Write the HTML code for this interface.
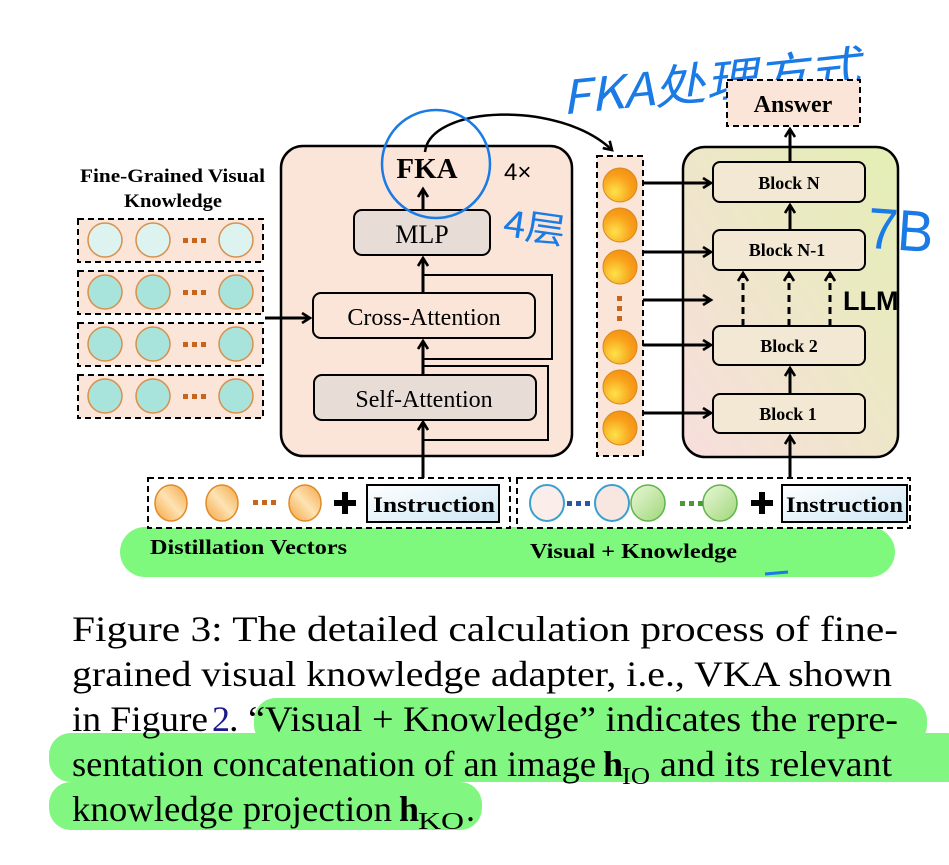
<!DOCTYPE html>
<html><head><meta charset="utf-8"><style>
html,body{margin:0;padding:0;background:#fff;}
svg{display:block;}
</style></head><body>
<svg width="949" height="865" viewBox="0 0 949 865" xmlns="http://www.w3.org/2000/svg">
<defs>
<marker id="ah" markerWidth="12" markerHeight="12" refX="9" refY="6" orient="auto" markerUnits="userSpaceOnUse">
<path d="M1,1 L9,6 L1,11" fill="none" stroke="#000" stroke-width="2.6"/>
</marker>
<radialGradient id="org" cx="0.35" cy="0.7" r="0.8">
<stop offset="0" stop-color="#fde24a"/><stop offset="0.6" stop-color="#f9a11b"/><stop offset="1" stop-color="#f28c12"/>
</radialGradient>
<linearGradient id="org2" x1="0" y1="1" x2="1" y2="0">
<stop offset="0" stop-color="#f6a23a"/><stop offset="0.5" stop-color="#fde3b4"/><stop offset="1" stop-color="#f5a441"/>
</linearGradient>
<linearGradient id="llm" x1="0" y1="1" x2="1" y2="0">
<stop offset="0" stop-color="#f8dede"/><stop offset="1" stop-color="#e4efb4"/>
</linearGradient>
<linearGradient id="ins" x1="0" y1="0" x2="1" y2="1">
<stop offset="0" stop-color="#ffffff"/><stop offset="1" stop-color="#cfe7f5"/>
</linearGradient>
<linearGradient id="grn" x1="0" y1="0" x2="1" y2="1">
<stop offset="0" stop-color="#eaf8d8"/><stop offset="1" stop-color="#9fd67a"/>
</linearGradient>
</defs>

<!-- handwriting -->
<text x="560" y="100" transform="rotate(-6 700 80)" font-family="'Noto Sans CJK SC',sans-serif" font-size="46" fill="#1a7ae6" font-style="italic" textLength="300" lengthAdjust="spacingAndGlyphs">FKA处理方式</text>

<!-- Answer -->
<rect x="727" y="80" width="133" height="46" fill="#fbe4d8" stroke="#000" stroke-width="2" stroke-dasharray="6,4"/>
<text x="793" y="112" text-anchor="middle" font-family="'Liberation Serif',serif" font-weight="bold" font-size="24">Answer</text>

<!-- Left knowledge -->
<text x="80" y="182" font-family="'Liberation Serif',serif" font-weight="bold" font-size="19" textLength="185" lengthAdjust="spacingAndGlyphs">Fine-Grained Visual</text>
<text x="124" y="207" font-family="'Liberation Serif',serif" font-weight="bold" font-size="19" textLength="98" lengthAdjust="spacingAndGlyphs">Knowledge</text>
<g stroke="#000" stroke-width="2" stroke-dasharray="6,4" fill="#fbe4d8">
<rect x="78" y="219" width="185" height="43"/>
<rect x="78" y="271" width="185" height="43"/>
<rect x="78" y="323" width="185" height="43"/>
<rect x="78" y="375" width="185" height="43"/>
</g>
<g stroke="#d9904a" stroke-width="1.5">
<circle cx="105" cy="240" r="17" fill="#dcf3ef"/><circle cx="153" cy="240" r="17" fill="#dcf3ef"/><circle cx="236" cy="240" r="17" fill="#dcf3ef"/>
<circle cx="105" cy="292" r="17" fill="#a8e4dc"/><circle cx="153" cy="292" r="17" fill="#a8e4dc"/><circle cx="236" cy="292" r="17" fill="#a8e4dc"/>
<circle cx="105" cy="344" r="17" fill="#a8e4dc"/><circle cx="153" cy="344" r="17" fill="#a8e4dc"/><circle cx="236" cy="344" r="17" fill="#a8e4dc"/>
<circle cx="105" cy="396" r="17" fill="#a8e4dc"/><circle cx="153" cy="396" r="17" fill="#a8e4dc"/><circle cx="236" cy="396" r="17" fill="#a8e4dc"/>
</g>
<g fill="#c8651b">
<rect x="183" y="238" width="5" height="5"/><rect x="192" y="238" width="5" height="5"/><rect x="201" y="238" width="5" height="5"/>
<rect x="183" y="290" width="5" height="5"/><rect x="192" y="290" width="5" height="5"/><rect x="201" y="290" width="5" height="5"/>
<rect x="183" y="342" width="5" height="5"/><rect x="192" y="342" width="5" height="5"/><rect x="201" y="342" width="5" height="5"/>
<rect x="183" y="394" width="5" height="5"/><rect x="192" y="394" width="5" height="5"/><rect x="201" y="394" width="5" height="5"/>
</g>

<!-- FKA box -->
<rect x="281" y="146" width="291" height="310" rx="22" fill="#fbe4d8" stroke="#000" stroke-width="2.5"/>
<text x="427" y="178" text-anchor="middle" font-family="'Liberation Serif',serif" font-weight="bold" font-size="29">FKA</text>
<text x="504" y="180" font-family="'Liberation Sans',sans-serif" font-size="24">4×</text>
<rect x="354" y="210" width="136" height="45" rx="8" fill="#e8dcd6" stroke="#000" stroke-width="2"/>
<text x="422" y="243" text-anchor="middle" font-family="'Liberation Serif',serif" font-size="26">MLP</text>
<rect x="313" y="293" width="222" height="45" rx="8" fill="#fbe4d8" stroke="#000" stroke-width="2"/>
<text x="424" y="325" text-anchor="middle" font-family="'Liberation Serif',serif" font-size="24">Cross-Attention</text>
<rect x="314" y="375" width="222" height="45" rx="8" fill="#e8dcd6" stroke="#000" stroke-width="2"/>
<text x="424" y="407" text-anchor="middle" font-family="'Liberation Serif',serif" font-size="24">Self-Attention</text>
<g stroke="#000" stroke-width="2" fill="none">
<polyline points="423,275 552,275 552,359 423,359"/>
<polyline points="423,366 548,366 548,440 423,440"/>
</g>
<g stroke="#000" stroke-width="3" fill="none" marker-end="url(#ah)">
<line x1="423" y1="478" x2="423" y2="422"/>
<line x1="423" y1="375" x2="423" y2="341"/>
<line x1="423" y1="293" x2="423" y2="258"/>
<line x1="423" y1="210" x2="423" y2="189"/>
<line x1="265" y1="318" x2="310" y2="318"/>
</g>
<path d="M425,152 C430,105 560,100 612,150" fill="none" stroke="#000" stroke-width="2.5" marker-end="url(#ah)"/>
<circle cx="436" cy="164" r="54" fill="none" stroke="#1a7ae6" stroke-width="2.5"/>
<text x="505" y="238" transform="rotate(8 520 215)" font-family="'Noto Sans CJK SC',sans-serif" font-size="36" fill="#1a7ae6" textLength="62" lengthAdjust="spacingAndGlyphs">4层</text>

<!-- middle column -->
<rect x="597" y="156" width="46" height="300" fill="#fbe4d8" stroke="#000" stroke-width="2" stroke-dasharray="6,4"/>
<g fill="url(#org)" stroke="#d68a1e" stroke-width="1">
<circle cx="620" cy="185" r="17"/><circle cx="620" cy="225" r="17"/><circle cx="620" cy="267" r="17"/>
<circle cx="620" cy="347" r="17"/><circle cx="620" cy="387" r="17"/><circle cx="620" cy="428" r="17"/>
</g>
<g fill="#c8651b"><rect x="617" y="296" width="5" height="5"/><rect x="617" y="306" width="5" height="5"/><rect x="617" y="316" width="5" height="5"/></g>

<!-- LLM -->
<rect x="683" y="147" width="215" height="310" rx="22" fill="url(#llm)" stroke="#000" stroke-width="2.5"/>
<g fill="#f3e8d4" stroke="#000" stroke-width="2">
<rect x="713" y="162" width="152" height="40" rx="7"/>
<rect x="713" y="230" width="152" height="40" rx="7"/>
<rect x="713" y="326" width="152" height="39" rx="7"/>
<rect x="713" y="394" width="152" height="39" rx="7"/>
</g>
<g font-family="'Liberation Serif',serif" font-weight="bold" font-size="18" text-anchor="middle">
<text x="789" y="189">Block N</text>
<text x="787" y="256">Block N-1</text>
<text x="789" y="352">Block 2</text>
<text x="788" y="420">Block 1</text>
</g>
<text x="843" y="310" font-family="'Liberation Sans',sans-serif" font-weight="bold" font-size="27">LLM</text>
<text x="868" y="250" font-family="'Liberation Sans',sans-serif" font-size="58" fill="#1a7ae6" transform="rotate(4 900 225)" textLength="66" lengthAdjust="spacingAndGlyphs">7B</text>
<g stroke="#000" stroke-width="3" fill="none" marker-end="url(#ah)">
<line x1="643" y1="183" x2="711" y2="183"/>
<line x1="643" y1="252" x2="711" y2="252"/>
<line x1="643" y1="300" x2="711" y2="300"/>
<line x1="643" y1="345" x2="711" y2="345"/>
<line x1="643" y1="413" x2="711" y2="413"/>
<line x1="790" y1="478" x2="790" y2="436"/>
<line x1="790" y1="394" x2="790" y2="368"/>
<line x1="790" y1="230" x2="790" y2="205"/>
<line x1="790" y1="162" x2="790" y2="129"/>
</g>
<g stroke="#000" stroke-width="3" fill="none" stroke-dasharray="7,5" marker-end="url(#ah)">
<line x1="743" y1="326" x2="743" y2="273"/>
<line x1="789" y1="326" x2="789" y2="273"/>
<line x1="830" y1="326" x2="830" y2="273"/>
</g>

<!-- green pill -->
<rect x="120" y="527" width="775" height="50" rx="25" fill="#7ef97e"/>
<path d="M765,574 L788,572" stroke="#1a7ae6" stroke-width="3"/>
<!-- bottom boxes -->
<rect x="148" y="478" width="362" height="50" fill="#fff" stroke="#000" stroke-width="2" stroke-dasharray="6,4"/>
<rect x="517" y="478" width="393" height="50" fill="#fff" stroke="#000" stroke-width="2" stroke-dasharray="6,4"/>
<g fill="url(#org2)" stroke="#e08a2a" stroke-width="1.5">
<ellipse cx="171" cy="503" rx="16" ry="18"/><ellipse cx="222" cy="503" rx="16" ry="18"/><ellipse cx="305" cy="503" rx="16" ry="18"/>
</g>
<g fill="#c8651b"><rect x="253" y="500" width="5" height="5"/><rect x="262" y="500" width="5" height="5"/><rect x="271" y="500" width="5" height="5"/></g>
<path d="M345,492 V514 M334,503 H356" stroke="#000" stroke-width="6"/>
<rect x="367" y="485" width="132" height="37" fill="url(#ins)" stroke="#000" stroke-width="2"/>
<text x="373" y="512" font-family="'Liberation Serif',serif" font-weight="bold" font-size="22" textLength="122" lengthAdjust="spacingAndGlyphs">Instruction</text>
<ellipse cx="547" cy="503" rx="17" ry="18" fill="#fbeeea" stroke="#3aa0d0" stroke-width="2"/>
<ellipse cx="612" cy="503" rx="17" ry="18" fill="#f8e6e0" stroke="#3aa0d0" stroke-width="2"/>
<ellipse cx="648" cy="503" rx="17" ry="18" fill="url(#grn)" stroke="#5fb54a" stroke-width="1.5"/>
<ellipse cx="720" cy="503" rx="17" ry="18" fill="url(#grn)" stroke="#5fb54a" stroke-width="1.5"/>
<g fill="#2c55a8"><rect x="567" y="501" width="5" height="5"/><rect x="576" y="501" width="5" height="5"/><rect x="585" y="501" width="5" height="5"/></g>
<g fill="#4a9a3a"><rect x="680" y="501" width="5" height="5"/><rect x="689" y="501" width="5" height="5"/><rect x="698" y="501" width="5" height="5"/></g>
<path d="M762,492 V514 M751,503 H773" stroke="#000" stroke-width="6"/>
<rect x="782" y="485" width="125" height="37" fill="url(#ins)" stroke="#000" stroke-width="2"/>
<text x="786" y="512" font-family="'Liberation Serif',serif" font-weight="bold" font-size="22" textLength="117" lengthAdjust="spacingAndGlyphs">Instruction</text>
<text x="150" y="554" font-family="'Liberation Serif',serif" font-weight="bold" font-size="21" textLength="197" lengthAdjust="spacingAndGlyphs">Distillation Vectors</text>
<text x="530" y="558" font-family="'Liberation Serif',serif" font-weight="bold" font-size="21" textLength="207" lengthAdjust="spacingAndGlyphs">Visual + Knowledge</text>

<!-- caption highlights -->
<g fill="#6cf56c" opacity="0.85">
<rect x="254" y="698" width="673" height="49" rx="22"/>
<rect x="49" y="733" width="920" height="49" rx="22"/>
<rect x="49" y="782" width="433" height="48" rx="22"/>
</g>
<g font-family="'Liberation Serif',serif" font-size="36" fill="#000" lengthAdjust="spacingAndGlyphs">
<text x="72" y="641" textLength="826" lengthAdjust="spacingAndGlyphs">Figure 3:  The detailed calculation process of fine-</text>
<text x="72" y="686" textLength="820" lengthAdjust="spacingAndGlyphs">grained visual knowledge adapter, i.e., VKA shown</text>
<text x="72" y="731" textLength="136" lengthAdjust="spacingAndGlyphs">in Figure</text>
<text x="212" y="731" fill="#1a1a8c">2</text>
<text x="229" y="731" textLength="669" lengthAdjust="spacingAndGlyphs">. “Visual + Knowledge” indicates the repre-</text>
<text x="72" y="776" textLength="524" lengthAdjust="spacingAndGlyphs">sentation concatenation of an image</text>
<text x="603" y="776" font-weight="bold">h</text>
<text x="622" y="784" font-size="24" textLength="28" lengthAdjust="spacingAndGlyphs">IO</text>
<text x="660" y="776" textLength="232" lengthAdjust="spacingAndGlyphs">and its relevant</text>
<text x="72" y="821" textLength="320" lengthAdjust="spacingAndGlyphs">knowledge projection</text>
<text x="399" y="821" font-weight="bold">h</text>
<text x="418" y="829" font-size="24" textLength="46" lengthAdjust="spacingAndGlyphs">KO</text>
<text x="466" y="821">.</text>
</g>
</svg>
</body></html>
